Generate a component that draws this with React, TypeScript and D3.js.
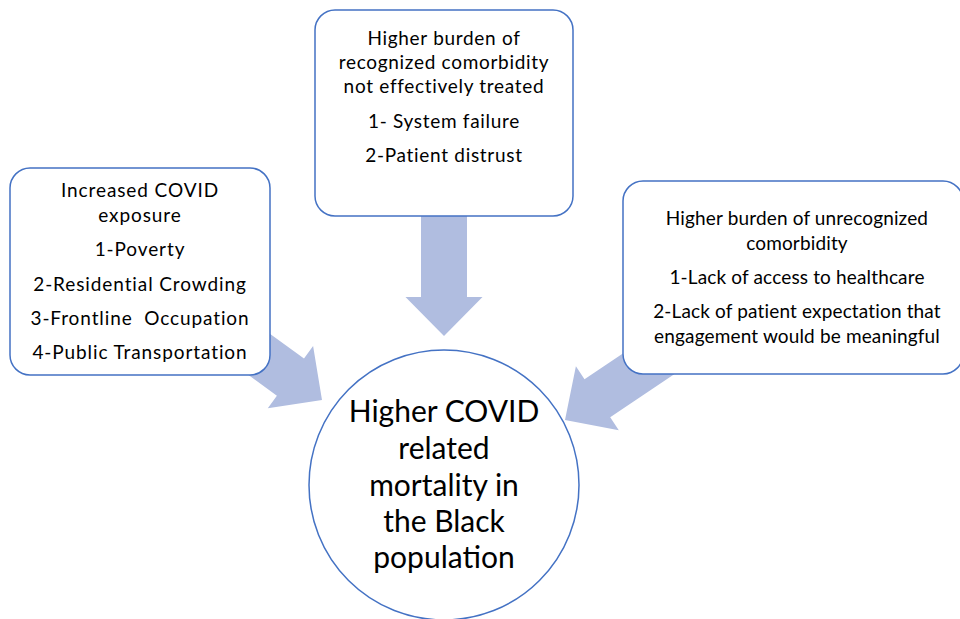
import * as React from "react";
import { useEffect, useRef } from "react";
import { select } from "d3";

// box texts
const topLines = ["Higher burden of", "recognized comorbidity", "not effectively treated", "1- System failure", "2-Patient distrust"];
const topLineY = [38, 62, 86, 121, 155];
const leftLines = ["Increased COVID", "exposure", "1-Poverty", "2-Residential Crowding", "3-Frontline  Occupation", "4-Public Transportation"];
const leftLineY = [190, 215, 249, 284, 318, 352];
const rightLines = ["Higher burden of unrecognized", "comorbidity", "1-Lack of access to healthcare", "2-Lack of patient expectation that", "engagement would be meaningful"];
const rightLineY = [218, 243, 277, 311, 336];
const centerLines = ["Higher COVID", "related", "mortality in", "the Black", "population"];
const centerLineY = [411, 448, 485, 521, 557];

const width = 960, height = 619;
const blue = "#4472C4";
const arrowFill = "#B0BDE0";
const font = "Lato, 'Open Sans', sans-serif";

type Pt = [number, number];

const arrowPath = (tail: Pt, tip: Pt, shaft: number, head: number, headLen: number) => {
    const dx = tip[0] - tail[0], dy = tip[1] - tail[1];
    const len = Math.hypot(dx, dy);
    const ux = dx / len, uy = dy / len;
    const nx = -uy, ny = ux;
    const bx = tip[0] - ux * headLen, by = tip[1] - uy * headLen;
    const pts: Pt[] = [
        [tail[0] + nx * shaft / 2, tail[1] + ny * shaft / 2],
        [bx + nx * shaft / 2, by + ny * shaft / 2],
        [bx + nx * head / 2, by + ny * head / 2],
        tip,
        [bx - nx * head / 2, by - ny * head / 2],
        [bx - nx * shaft / 2, by - ny * shaft / 2],
        [tail[0] - nx * shaft / 2, tail[1] - ny * shaft / 2],
    ];
    return "M" + pts.map(p => p[0].toFixed(1) + "," + p[1].toFixed(1)).join("L") + "Z";
};

const App: React.FC = () => {
    const node = useRef<SVGSVGElement>(null);

    useEffect(() => {
        if (!node.current) return;
        const svg = select(node.current);
        svg.selectAll("*").remove();

        // arrows (drawn first, boxes cover tails)
        const arrows: [Pt, Pt][] = [
            [[444, 200], [444, 336]],
            [[201, 312], [322, 400]],
            [[690, 336], [565, 420]],
        ];
        svg.selectAll("path.arrow")
            .data(arrows)
            .join("path")
            .attr("class", "arrow")
            .attr("d", d => arrowPath(d[0], d[1], 46, 77, 39))
            .attr("fill", arrowFill);

        const boxes = [
            {x: 315, y: 10, w: 258, h: 206, cx: 444, ls: 0.7, lines: topLines, ys: topLineY},
            {x: 10, y: 168, w: 260, h: 207, cx: 140, ls: 0.9, lines: leftLines, ys: leftLineY},
            {x: 623, y: 181, w: 340, h: 193, cx: 797, ls: 0.15, lines: rightLines, ys: rightLineY},
        ];

        boxes.forEach(b => {
            svg.append("rect")
                .attr("x", b.x).attr("y", b.y)
                .attr("width", b.w).attr("height", b.h)
                .attr("rx", 20).attr("ry", 20)
                .attr("fill", "#fff")
                .attr("stroke", blue)
                .attr("stroke-width", 1.5);
            svg.append("g")
                .selectAll("text")
                .data(b.lines)
                .join("text")
                .attr("x", b.cx)
                .attr("y", (_, i) => b.ys[i])
                .attr("dy", "0.35em")
                .attr("text-anchor", "middle")
                .attr("font-family", font)
                .attr("font-size", 19)
                .attr("letter-spacing", b.ls)
                .attr("fill", "#000")
                .style("white-space", "pre")
                .text(d => d);
        });

        svg.append("circle")
            .attr("cx", 444).attr("cy", 485).attr("r", 135)
            .attr("fill", "#fff")
            .attr("stroke", blue)
            .attr("stroke-width", 1.5);

        svg.append("g")
            .selectAll("text")
            .data(centerLines)
            .join("text")
            .attr("x", 444)
            .attr("y", (_, i) => centerLineY[i])
            .attr("dy", "0.35em")
            .attr("text-anchor", "middle")
            .attr("font-family", font)
            .attr("font-size", 30)
            .attr("fill", "#000")
            .text(d => d);
    }, []);

    return (
        <>
            <style>{"body{margin:0}"}</style>
            <svg width={width} height={height} ref={node} style={{display: "block"}}/>
        </>
    );
};

export default App;
